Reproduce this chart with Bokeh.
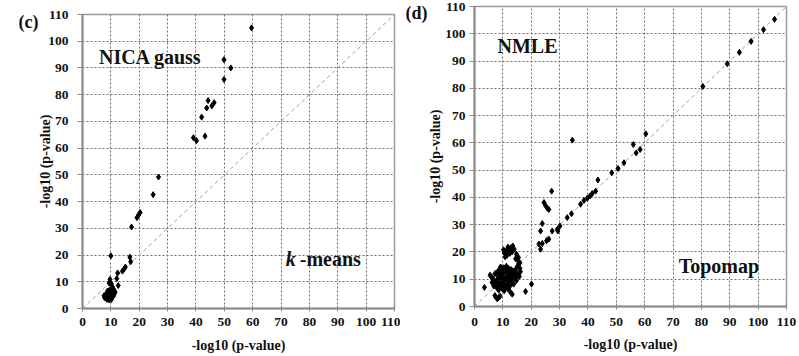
from bokeh.plotting import figure
from bokeh.layouts import row
from bokeh.models import Label, FixedTicker, LinearAxis
from bokeh.embed import file_html
from bokeh.resources import INLINE

# ---------------- data ----------------
ticks = [0, 10, 20, 30, 40, 50, 60, 70, 80, 90, 100, 110]

# panel (c): x = k-means, y = NICA gauss  (-log10 p-value)
kmeans_x = [59.6, 49.9, 52.3, 49.9, 44.3, 46.4, 45.6, 43.8, 42.0, 39.1, 40.2, 43.2,
            26.8, 24.9, 20.3, 19.8, 19.2, 17.3, 10.0, 16.7, 17.0, 15.1, 14.6, 14.1,
            12.4, 12.1, 12.6, 9.7, 9.4, 10.2, 10.6, 11.2,
            8.0, 8.5, 9.0, 9.5, 10.0, 10.5, 9.2, 8.3, 7.6, 9.8, 10.8, 11.5, 8.8,
            9.6, 10.4, 8.6, 9.4, 10.2, 11.0, 7.8]
nica_y = [105.0, 93.1, 90.0, 85.7, 77.8, 77.0, 75.8, 75.0, 71.6, 63.9, 62.8, 64.5,
          49.2, 42.6, 35.9, 35.0, 34.0, 30.5, 19.7, 19.2, 17.5, 15.5, 14.7, 14.0,
          13.3, 11.2, 8.6, 10.9, 9.5, 9.2, 8.0, 6.8,
          5.0, 4.2, 3.6, 3.9, 3.5, 4.4, 5.3, 4.6, 4.8, 4.8, 5.6, 6.0, 6.5,
          7.0, 6.3, 3.4, 3.2, 3.4, 4.8, 4.0]

# panel (d): x = Topomap, y = NMLE  (-log10 p-value)
topo_x = [105.8, 101.9, 97.5, 93.4, 89.1, 80.5,
          34.5, 60.4, 56.0, 58.4, 57.0, 52.7, 50.6, 48.4, 43.5,
          42.7, 41.5, 40.7, 39.8, 38.6, 37.4, 34.2, 32.7,
          27.2, 24.5, 25.1, 25.7, 26.2, 30.1, 29.2, 29.4, 27.4, 23.9, 23.3,
          26.2, 25.4, 22.7, 23.3, 23.9,
          10.5, 11.2, 12.0, 12.8, 13.5, 14.0, 11.5, 10.8, 12.5, 13.2, 10.2, 11.8,
          14.5, 15.0, 15.5, 14.8,
          5.5, 6.0, 6.5, 7.0, 6.2, 7.5, 8.0, 6.8, 7.8, 8.5, 8.8, 9.2, 8.2, 7.2,
          9.5, 9.0, 8.5, 9.8, 7.5, 8.0, 8.5, 7.2, 9.0,
          10.0, 10.5, 11.0, 11.5, 12.0, 12.5, 13.0, 10.2, 11.0, 10.8, 11.5, 12.2,
          12.8, 13.2, 11.8, 12.5, 13.3, 10.5, 12.7, 13.3, 12.0, 11.2,
          14.0, 14.5, 15.0, 15.5, 16.0, 15.2, 14.2, 15.8, 16.2, 14.8, 13.8, 15.5, 16.0,
          9.0, 9.8, 10.6, 11.4, 12.2, 13.0, 8.2, 9.4, 10.2, 11.8, 12.6, 13.6, 14.4,
          7.6, 8.6, 9.6, 10.8, 11.6, 12.4, 13.8, 6.6, 7.4, 9.2, 10.4, 14.6,
          3.5, 18.0, 20.1]
nmle_y = [105.3, 101.5, 97.2, 93.2, 89.0, 80.7,
          61.0, 63.3, 59.4, 57.6, 56.3, 52.7, 50.6, 49.0, 46.4,
          42.3, 41.4, 40.5, 39.7, 38.9, 37.5, 34.0, 32.6,
          42.3, 38.1, 36.9, 36.0, 35.6, 29.5, 28.3, 27.7, 27.7, 30.4, 27.7,
          24.7, 24.1, 22.9, 21.0, 23.1,
          19.8, 20.5, 21.0, 21.5, 22.2, 21.0, 18.8, 18.2, 19.5, 20.0, 20.8, 21.8,
          17.5, 18.5, 18.0, 19.2,
          11.5, 10.8, 10.0, 9.5, 8.8, 8.5, 8.0, 7.5, 7.0, 9.0, 13.5, 14.5, 12.8, 12.0,
          10.5, 7.5, 6.0, 6.5, 3.5, 2.8, 3.2, 4.0, 3.8,
          8.5, 9.5, 10.2, 11.0, 12.0, 12.8, 13.5, 11.8, 13.0, 7.5, 8.2, 9.0,
          10.0, 11.2, 6.5, 7.5, 8.8, 5.8, 5.2, 4.5, 14.0, 14.8,
          12.5, 13.5, 14.5, 15.5, 14.0, 12.0, 10.5, 11.0, 12.8, 9.5, 13.0, 16.5, 16.0,
          11.0, 12.4, 9.8, 13.8, 10.8, 12.2, 10.2, 8.6, 14.2, 9.4, 11.6, 9.8, 11.4,
          12.2, 11.0, 13.2, 10.0, 7.0, 13.6, 8.2, 9.6, 8.0, 12.6, 6.8, 10.6,
          7.0, 5.5, 8.2]

axis_title = "-log10 (p-value)"
SERIF = "Liberation Serif"
C_LAB = 107.1   # y-position of the "(c)" panel tag (data units)
D_LAB = 107.8   # y-position of the "(d)" panel tag (data units)


def add_text(p, x, y, text, size="20px", style="bold"):
    p.add_layout(Label(x=x, y=y, text=text, text_font=SERIF, text_font_style=style,
                       text_font_size=size, text_color="#111111",
                       text_baseline="middle", text_align="left"))


def make_panel(xs, ys, width, height, bl, br, bt, bb,
               xlab_standoff, ylab_standoff, xtitle_standoff, ytitle_standoff,
               tag, tag_y, tag_standoff):
    p = figure(width=width, height=height, x_range=(0, 110), y_range=(0, 110),
               output_backend="svg", toolbar_location=None,
               min_border_left=bl, min_border_right=br,
               min_border_top=bt, min_border_bottom=bb,
               background_fill_color="white", border_fill_color="white")
    p.frame_align = False
    p.outline_line_color = "#9a9a9a"
    p.outline_line_width = 1.5

    p.xaxis.ticker = FixedTicker(ticks=ticks)
    p.yaxis.ticker = FixedTicker(ticks=ticks)
    p.xgrid.ticker = FixedTicker(ticks=ticks)
    p.ygrid.ticker = FixedTicker(ticks=ticks)
    for g in (p.xgrid, p.ygrid):
        g.grid_line_color = "#6e6e6e"
        g.grid_line_alpha = 1.0
        g.grid_line_dash = "2 2"
        g.grid_line_width = 1

    p.axis.axis_line_color = "#8a8a8a"
    p.axis.axis_line_width = 2
    p.axis.major_tick_line_color = "#8a8a8a"
    p.axis.minor_tick_line_color = None
    p.xaxis.major_tick_in = 3
    p.xaxis.major_tick_out = 3
    p.yaxis.major_tick_in = 0
    p.yaxis.major_tick_out = 5
    p.axis.major_label_text_font = SERIF
    p.axis.major_label_text_font_style = "bold"
    p.axis.major_label_text_font_size = "13.5px"
    p.axis.major_label_text_color = "#111111"
    p.xaxis.major_label_standoff = xlab_standoff
    p.yaxis.major_label_standoff = ylab_standoff

    p.xaxis.axis_label = axis_title
    p.yaxis.axis_label = axis_title
    p.axis.axis_label_text_font = SERIF
    p.axis.axis_label_text_font_style = "bold"
    p.axis.axis_label_text_font_size = "14px"
    p.axis.axis_label_text_color = "#111111"
    p.xaxis.axis_label_standoff = xtitle_standoff
    p.yaxis.axis_label_standoff = ytitle_standoff

    # panel tag "(c)" / "(d)" as the single label of an invisible outer axis
    tag_axis = LinearAxis(ticker=FixedTicker(ticks=[tag_y]),
                          major_label_overrides={tag_y: tag},
                          axis_line_color=None, major_tick_line_color=None,
                          minor_tick_line_color=None,
                          major_tick_in=0, major_tick_out=0,
                          major_label_standoff=tag_standoff,
                          major_label_text_font=SERIF,
                          major_label_text_font_style="bold",
                          major_label_text_font_size="18px",
                          major_label_text_color="#111111")
    p.add_layout(tag_axis, "left")

    p.line(x=[0, 110], y=[0, 110], line_color="#a0a0a0", line_dash="4 3", line_width=1)
    p.scatter(x=xs, y=ys, marker="diamond", size=6, color="black")
    return p


# panel (c)
pc = make_panel(kmeans_x, nica_y, 400, 356, 82, 6, 14, 48,
                6, 9, 9, -8, "\u00a0(c)", C_LAB, -3)
add_text(pc, 5.8, 94.0, "NICA gauss")
add_text(pc, 71.7, 18.7, "k", style="bold italic")
add_text(pc, 76.6, 18.7, "-means")

# panel (d)
pd_ = make_panel(topo_x, nmle_y, 399, 356, 74, 13, 6, 50,
                 8, 4, 8, -1, "(d)", D_LAB, -2)
add_text(pd_, 8.1, 95.4, "NMLE")
add_text(pd_, 72.0, 14.9, "Topomap")

layout = row(pc, pd_, spacing=0)
open("out.html", "w").write(file_html(layout, INLINE))
